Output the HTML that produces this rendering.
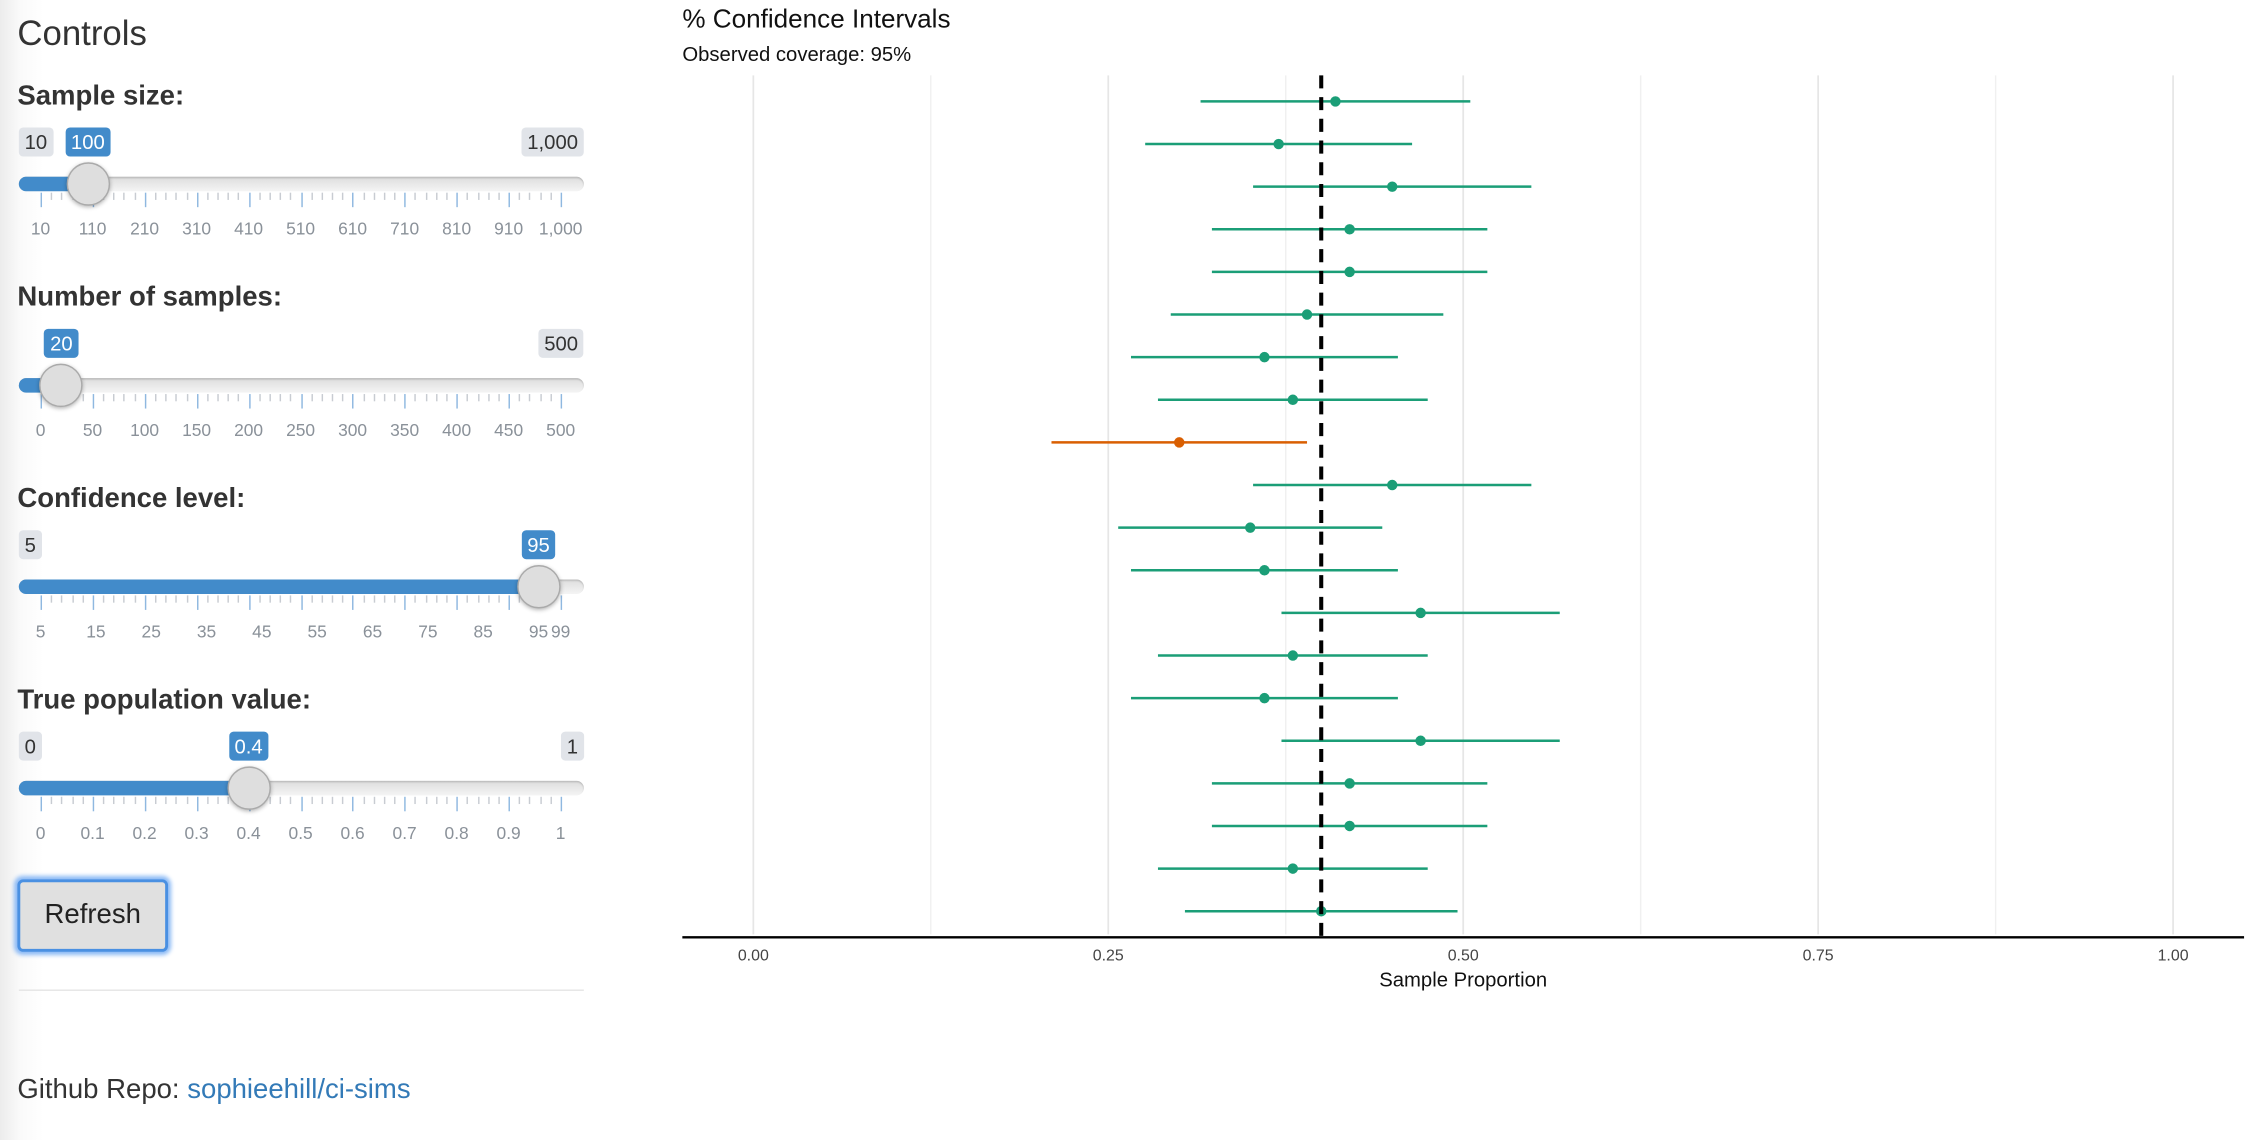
<!DOCTYPE html>
<html><head><meta charset="utf-8"><style>
html,body{margin:0;padding:0;background:#fff;overflow:hidden;width:2260px;height:1140px}
#root{position:absolute;left:0;top:0;width:1560px;height:787px;overflow:hidden;transform:scale(1.44872);transform-origin:0 0;font-family:"Liberation Sans",Arial,sans-serif;color:#333}
#side{position:absolute;left:0;top:0;width:440px;height:787px;background:linear-gradient(to right,#ececec 0px,#fafafa 14px,#fff 30px)}
.abs{position:absolute;white-space:nowrap}
.lbl{font-weight:bold;font-size:19px}
.tag{position:absolute;font-size:14px;line-height:20px;height:20px;padding:0 4px;border-radius:3px;transform:translateX(-50%)}
.mm{background:#e1e4e9;color:#333}
.val{background:#428bca;color:#fff}
.track{position:absolute;left:13px;width:390px;height:10px;border-radius:5px;background:linear-gradient(#ddd,#f4f4f4);box-shadow:inset 0 1px 1px #bbb}
.bar{position:absolute;left:13px;height:10px;border-radius:5px 0 0 5px;background:#428bca}
.handle{position:absolute;width:28px;height:28px;border-radius:50%;background:#dedede;border:1px solid #aaa;box-shadow:0 1px 3px rgba(0,0,0,.3);transform:translate(-50%,-50%)}
.tick{position:absolute;width:1px;background:#8fb8e0}
.glab{position:absolute;font-size:12px;color:#8a9199;transform:translateX(-50%)}
</style></head><body>
<div id="root">
<div id="side">
<div class="abs" style="left:12px;top:10px;font-size:24px">Controls</div>
<div id="sliders"></div>
<div class="abs" style="left:12px;top:607px;width:100px;height:46px;border:2px solid #4a90e2;border-radius:4px;box-shadow:0 0 3px 2px #8ab9f5;background:#e0e0e0;font-size:19px;line-height:46px;text-align:center;color:#222">Refresh</div>
<div class="abs" style="left:13px;top:683px;width:390px;height:1px;background:#e5e5e5"></div>
<div class="abs" style="left:12px;top:742px;font-size:19px">Github Repo: <span style="color:#337ab7">sophieehill/ci-sims</span></div>
</div>
<div class="abs" style="left:471px;top:3px;font-size:18px;color:#111">% Confidence Intervals</div>
<div class="abs" style="left:471px;top:29px;font-size:14px;color:#111">Observed coverage: 95%</div>
<svg id="chart" class="abs" style="left:0;top:0" width="1560" height="787"></svg>
</div>
<script>
// ---- chart data ----
const estimates=[0.41,0.37,0.45,0.42,0.42,0.39,0.36,0.38,0.30,0.45,0.35,0.36,0.47,0.38,0.36,0.47,0.42,0.42,0.38,0.40];
const lowers=[0.315,0.276,0.352,0.323,0.323,0.294,0.266,0.285,0.210,0.352,0.257,0.266,0.372,0.285,0.266,0.372,0.323,0.323,0.285,0.304];
const uppers=[0.505,0.464,0.548,0.517,0.517,0.486,0.454,0.475,0.390,0.548,0.443,0.454,0.568,0.475,0.454,0.568,0.517,0.517,0.475,0.496];
const covers=[1,1,1,1,1,1,1,1,0,1,1,1,1,1,1,1,1,1,1,1];
const trueValue=0.4;
const xTicks=[0,0.25,0.5,0.75,1];
const xTickLabels=["0.00","0.25","0.50","0.75","1.00"];
const xMinor=[0.125,0.375,0.625,0.875];

const NS="http://www.w3.org/2000/svg";
const svg=document.getElementById('chart');
const X=v=>520+v*980;
const Y=i=>70+i*(629-70)/(estimates.length-1);
function mk(t,a){const e=document.createElementNS(NS,t);for(const k in a)e.setAttribute(k,a[k]);svg.appendChild(e);return e;}
xMinor.forEach(v=>{const l=mk('line',{x1:X(v),x2:X(v),y1:52,y2:645,stroke:'#f0f0f0','stroke-width':1});

});
xTicks.forEach((v,i)=>{const l=mk('line',{x1:X(v),x2:X(v),y1:52,y2:645,stroke:'#e6e6e6','stroke-width':1.2});


const t=mk('text',{x:X(v),y:663,'text-anchor':'middle','font-size':11,fill:'#444','font-family':'Liberation Sans, sans-serif'});t.textContent=xTickLabels[i];

});
estimates.forEach((p,i)=>{const c=covers[i]?'#1b9e77':'#d95f02';
const l=mk('line',{x1:X(lowers[i]),x2:X(uppers[i]),y1:Y(i),y2:Y(i),stroke:c,'stroke-width':1.7});


const d=mk('circle',{cx:X(p),cy:Y(i),r:3.6,fill:c});

});
const tv=mk('line',{x1:X(trueValue),x2:X(trueValue),y1:52,y2:647,stroke:'#000','stroke-width':2.8,'stroke-dasharray':'9,6'});


const ax=mk('line',{x1:471,x2:1549,y1:647,y2:647,stroke:'#000','stroke-width':1.6});


const xt=mk('text',{x:1010,y:681,'text-anchor':'middle','font-size':14,fill:'#111','font-family':'Liberation Sans, sans-serif'});xt.textContent='Sample Proportion';



// ---- sliders ----
const sliderLabels=["Sample size:","Number of samples:","Confidence level:","True population value:"];
const sliderMins=["10","","5","0"];
const sliderMaxs=["1,000","500","","1"];
const sliderValues=["100","20","95","0.4"];
const sliderFrac=[0.0909,0.04,0.9574,0.4];
const gridLabels=[["10","110","210","310","410","510","610","710","810","910","1,000"],["0","50","100","150","200","250","300","350","400","450","500"],["5","15","25","35","45","55","65","75","85","95","99"],["0","0.1","0.2","0.3","0.4","0.5","0.6","0.7","0.8","0.9","1"]];
const gridPos=[[0,.1,.2,.3,.4,.5,.6,.7,.8,.9,1],[0,.1,.2,.3,.4,.5,.6,.7,.8,.9,1],[0,.1064,.2128,.3191,.4255,.5319,.6383,.7447,.8511,.9574,1],[0,.1,.2,.3,.4,.5,.6,.7,.8,.9,1]];
const host=document.getElementById('sliders');
const GX=f=>28+f*359;
const HX=f=>28+f*359;
sliderLabels.forEach((lab,s)=>{
 const top=139*s;
 const g=document.createElement('div');host.appendChild(g);
 
 
 const L=document.createElement('div');L.className='abs lbl';L.style.left='12px';L.style.top=(56+top)+'px';L.textContent=lab;g.appendChild(L);
 
 
 const ty=127+top;
 const tr=document.createElement('div');tr.className='track';tr.style.top=(ty-5)+'px';g.appendChild(tr);
 
 
 const hx=HX(sliderFrac[s]);
 const b=document.createElement('div');b.className='bar';b.style.top=(ty-5)+'px';b.style.width=(hx-13)+'px';g.appendChild(b);
 
 
 for(let k=0;k<=50;k++){const f=k/50;const t=document.createElement('div');t.className='tick';
  const major=k%5==0;t.style.left=GX(f)+'px';t.style.top=(ty+6)+'px';t.style.height=(major?10:5)+'px';if(!major)t.style.background='#c8ccd2';g.appendChild(t);
  
  }
 gridLabels[s].forEach((txt,k)=>{const t=document.createElement('div');t.className='glab';t.style.left=GX(gridPos[s][k])+'px';t.style.top=(ty+24)+'px';t.textContent=txt;g.appendChild(t);
  
  });
 if(sliderMins[s]){const m=document.createElement('div');m.className='tag mm';m.textContent=sliderMins[s];m.style.top=(ty-39)+'px';m.style.left='13px';m.style.transform='none';g.appendChild(m);
  
  }
 if(sliderMaxs[s]){const m=document.createElement('div');m.className='tag mm';m.textContent=sliderMaxs[s];m.style.top=(ty-39)+'px';m.style.left='403px';m.style.transform='translateX(-100%)';g.appendChild(m);
  
  }
 const v=document.createElement('div');v.className='tag val';v.textContent=sliderValues[s];v.style.top=(ty-39)+'px';v.style.left=hx+'px';g.appendChild(v);
 
 
 const h=document.createElement('div');h.className='handle';h.style.left=hx+'px';h.style.top=ty+'px';g.appendChild(h);
 
 
});
</script>
</body></html>
